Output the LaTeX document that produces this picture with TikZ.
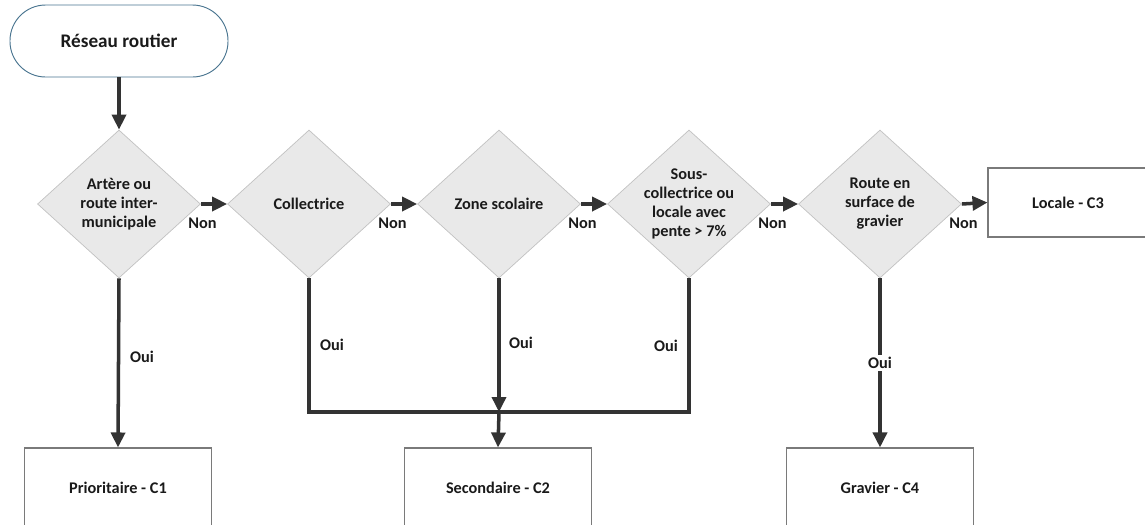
\documentclass[tikz,border=0pt]{standalone}
\usepackage{fontspec}
\setmainfont{Carlito}
\usepackage{tikz}
\usetikzlibrary{arrows.meta}
\usetikzlibrary{shapes.geometric}
\definecolor{ligne}{HTML}{333333}
\definecolor{texte}{HTML}{1A1A1A}
\definecolor{bordterm}{HTML}{4A7590}
\definecolor{fondlos}{HTML}{E9E9E9}
\definecolor{bordlos}{HTML}{C2C2C2}
\definecolor{bordbox}{HTML}{7A7A7A}

\begin{document}
\begin{tikzpicture}[x={(0.03cm,0)},y={(0,-0.03cm)},
        font=\bfseries\fontsize{13.9}{16.2}\selectfont, text=texte,
        terminal/.style={rectangle, rounded corners=1.07cm, draw=bordterm, line width=0.8pt,
                minimum width=6.54cm, minimum height=2.16cm, font=\bfseries\fontsize{16.4}{19}\selectfont},
        decision/.style={diamond, draw=bordlos, fill=fondlos, line width=0.6pt, aspect=1.1,
                minimum width=4.89cm, minimum height=4.44cm, inner sep=-4pt, align=center},
        classe/.style={rectangle, draw=bordbox, line width=0.9pt, minimum width=5.61cm, minimum height=2.4cm},
        fleche/.style={-{Triangle[length=0.45cm,width=0.42cm]}, line width=3pt, draw=ligne},
        trait/.style={line width=3pt, draw=ligne}]
        \useasboundingbox (0,0) rectangle (1145,524);

        \node[terminal](start) at (119,41){R\'eseau routier};

        \node[decision](d1) at (119,204){Art\`ere ou\\route inter-\\municipale};
        \node[decision](d2) at (309,204){Collectrice};
        \node[decision](d3) at (499,204){Zone scolaire};
        \node[decision](d4) at (689,204){Sous-\\collectrice ou\\locale avec\\pente > 7\%};
        \node[decision](d5) at (880,204){Route en\\surface de\\gravier};

        \node[classe, minimum width=4.8cm, minimum height=2.07cm](c3) at (1068,202.5){Locale - C3};
        \node[classe](c1) at (118,488){Prioritaire - C1};
        \node[classe](c2) at (498,488){Secondaire - C2};
        \node[classe](c4) at (880,488){Gravier - C4};

        \coordinate(j) at (499,412);

        \node(N1) at (d1.east) [below, xshift=0.5mm, yshift=-3mm]{Non};
        \node(N2) at (d2.east) [below, xshift=0.5mm, yshift=-3mm]{Non};
        \node(N3) at (d3.east) [below, xshift=0.5mm, yshift=-3mm]{Non};
        \node(N4) at (d4.east) [below, xshift=0.5mm, yshift=-3mm]{Non};
        \node(N5) at (d5.east) [below, xshift=0.5mm, yshift=-3mm]{Non};

        \node(O1) at (142,357){Oui};
        \node(O2) at (332,345){Oui};
        \node(O3) at (521,343){Oui};
        \node(O4) at (666,346){Oui};

        \draw[fleche] (start) -- (d1);
        \draw[fleche] (d1.east) -- (d2.west);
        \draw[fleche] (d2.east) -- (d3.west);
        \draw[fleche] (d3.east) -- (d4.west);
        \draw[fleche] (d4.east) -- (d5.west);
        \draw[fleche] (d5.east) -- (c3.west);

        \draw[fleche] (d1.south) -- (c1.north);
        \draw[trait] (d2.south) |- (j) -| (d4.south);
        \draw[fleche] (d3.south) -- (j);
        \draw[fleche] (j) -- (c2.north);
        \draw[fleche] (d5.south) -- node[fill=white, inner sep=2pt](O5){Oui} (c4.north);

      \end{tikzpicture}
\end{document}
